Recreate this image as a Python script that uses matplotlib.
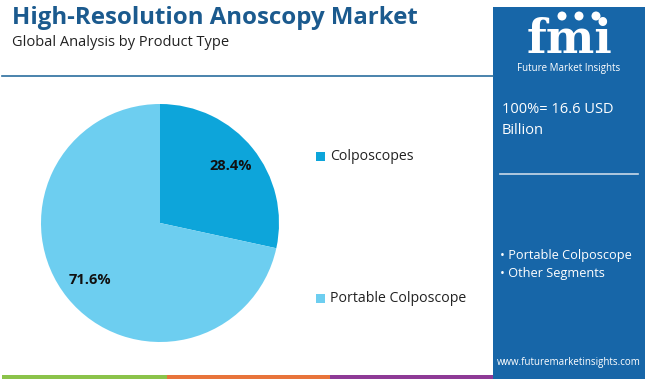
import matplotlib
matplotlib.use("Agg")
import matplotlib.pyplot as plt
from matplotlib.patches import Rectangle

# ---- data ----
categories = ["Colposcopes", "Portable Colposcope"]
shares = [28.4, 71.6]
colors = ["#0DA5DA", "#6DCEF0"]
title = "High-Resolution Anoscopy Market"
subtitle = "Global Analysis by Product Type"
total_text = "100%= 16.6 USD\nBillion"
side_bullets = ["• Portable Colposcope", "• Other Segments"]

W, H = 650, 379
plt.rcParams['font.family'] = ['Open Sans', 'DejaVu Sans']
fig = plt.figure(figsize=(W / 100, H / 100), dpi=100)
fig.patch.set_facecolor("white")

def fx(x): return x / W
def fy(y): return 1 - y / H

# background overlay axis for decorations
bg = fig.add_axes([0, 0, 1, 1], zorder=0)
bg.set_xlim(0, W); bg.set_ylim(H, 0); bg.axis("off")

# title & subtitle
bg.text(12, 18, title, fontsize=17.3, fontweight="bold", color="#1B5A8E", va="center", ha="left")
bg.text(12, 42, subtitle, fontsize=10.5, color="#222222", va="center", ha="left")
bg.plot([2, 493], [76, 76], color="#2B6E9E", lw=1.2)

# bottom colour bar
bg.add_patch(Rectangle((2, 375), 165, 4, color="#8BC34A", lw=0))
bg.add_patch(Rectangle((167, 375), 163, 4, color="#E8743B", lw=0))
bg.add_patch(Rectangle((330, 375), 163, 4, color="#8E3A96", lw=0))

# right panel
panel_c = "#1766A8"
bg.add_patch(Rectangle((493, 7), 152, 372, color=panel_c, lw=0))
bg.text(570, 40, "fmi", fontsize=33, fontweight="bold", family="DejaVu Serif",
        color="white", ha="center", va="center")
for yy in range(24, 58, 3):
    bg.plot([515, 630], [yy, yy], color=panel_c, lw=0.7)
for cx in [562, 579, 596]:
    bg.add_patch(plt.Circle((cx, 16), 4.5, color="white", lw=0))
bg.text(569, 68, "Future Market Insights", fontsize=7, color="white", ha="center", va="center")
bg.text(502, 120, total_text, fontsize=10.5, color="white", ha="left", va="center", linespacing=1.6)
bg.plot([500, 638], [174, 174], color="#C9D9E8", lw=1.2)
bg.text(500, 256, side_bullets[0], fontsize=9.2, color="white", ha="left", va="center")
bg.text(500, 273, side_bullets[1], fontsize=9.2, color="white", ha="left", va="center")
bg.text(569, 362, "www.futuremarketinsights.com", fontsize=7, color="white", ha="center", va="center")

# legend
for cat, col, yy in zip(categories, colors, [156, 298]):
    bg.add_patch(Rectangle((316, yy - 4.5), 9, 9, color=col, lw=0))
    bg.text(330, yy, cat, fontsize=10.2, color="#222222", ha="left", va="center")

# pie
cx, cy, r = 160, 223, 119
ax = fig.add_axes([fx(cx - r), fy(cy + r), 2 * r / W, 2 * r / H], zorder=1)
ax.pie(shares, colors=colors, startangle=90, counterclock=False,
       autopct=lambda p: f"{p:.1f}%", pctdistance=0.76,
       textprops=dict(fontsize=10.5, fontweight="bold", color="#111111"),
       wedgeprops=dict(linewidth=0))
ax.set_xlim(-1, 1); ax.set_ylim(-1, 1)
ax.set_aspect("equal")
ax.axis("off")

fig.savefig("out.png", dpi=100)
